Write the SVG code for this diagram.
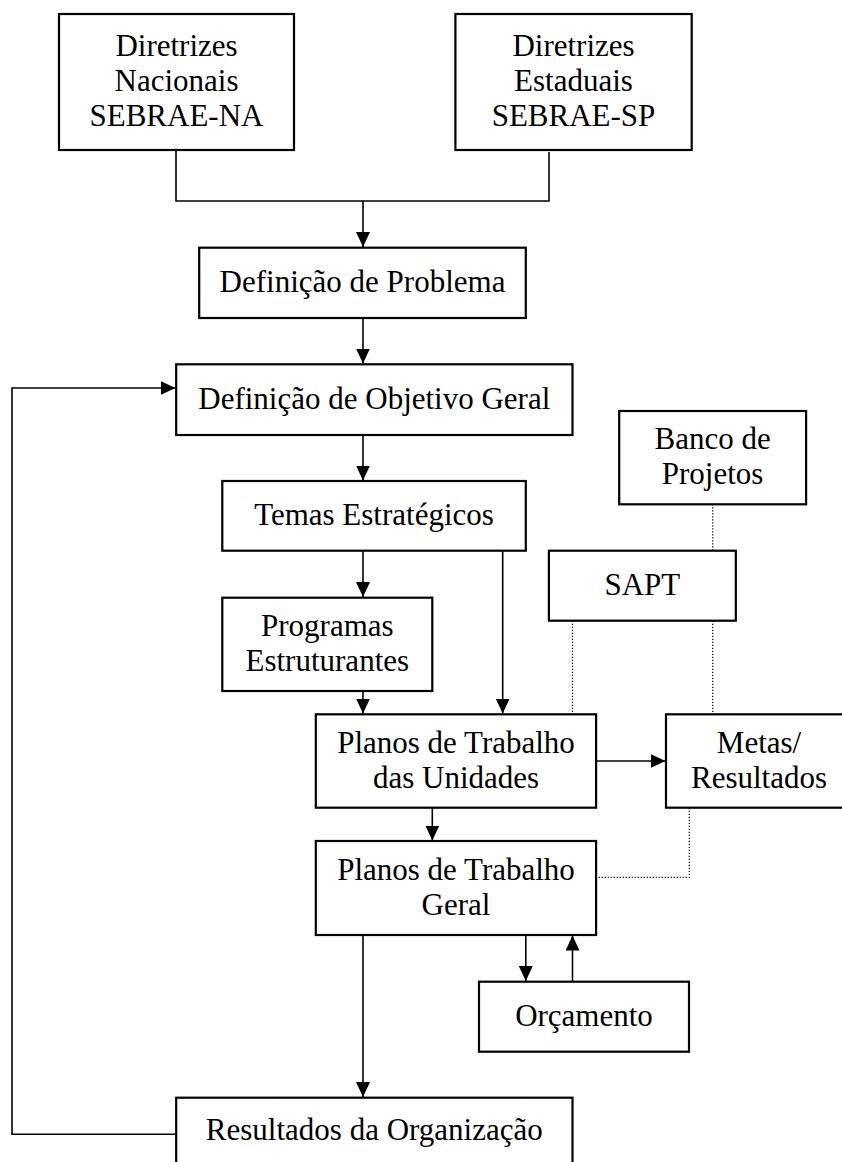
<svg xmlns="http://www.w3.org/2000/svg" width="842" height="1162" viewBox="0 0 842 1162">
<style>
.box{fill:#fff;stroke:#000;stroke-width:2.2}
.t{font-family:"Liberation Serif","Times New Roman",serif;font-size:31px;fill:#000;text-anchor:middle}
.c{fill:none;stroke:#000;stroke-width:1.6}
.d{fill:none;stroke:#000;stroke-width:1.2;stroke-dasharray:1.2 1.8}
</style>
<defs>
<marker id="ah" markerUnits="userSpaceOnUse" viewBox="0 0 15 14" refX="15" refY="7" markerWidth="15" markerHeight="14" orient="auto">
<path d="M0,0 L15,7 L0,14 z" fill="#000"/>
</marker>
</defs>
<rect width="842" height="1162" fill="#fff"/>
<g id="connectors">
<path class="c" d="M176,150 V201 H549 V152"/>
<path class="c" d="M363,201 V247" marker-end="url(#ah)"/>
<path class="c" d="M363,318 V363.5" marker-end="url(#ah)"/>
<path class="c" d="M363,435 V480.5" marker-end="url(#ah)"/>
<path class="c" d="M363,550.7 V597" marker-end="url(#ah)"/>
<path class="c" d="M502.7,550.7 V713.5" marker-end="url(#ah)"/>
<path class="c" d="M363,691 V713.5" marker-end="url(#ah)"/>
<path class="c" d="M596,761 H665.5" marker-end="url(#ah)"/>
<path class="c" d="M432.3,807.7 V840.5" marker-end="url(#ah)"/>
<path class="c" d="M525.8,935 V981" marker-end="url(#ah)"/>
<path class="c" d="M572.5,981.7 V935.5" marker-end="url(#ah)"/>
<path class="c" d="M363,935 V1097" marker-end="url(#ah)"/>
<path class="c" d="M176,1134.3 H12 V388 H175.5" marker-end="url(#ah)"/>
<path class="d" d="M712.7,504.3 V550.7"/>
<path class="d" d="M572.5,620.7 V714.3"/>
<path class="d" d="M712.7,620.7 V714.3"/>
<path class="d" d="M689.3,807.7 V877.3 H596"/>
</g>
<g id="n-nacionais">
<rect class="box" x="59" y="14" width="235" height="136"/>
<text class="t" x="176.5" y="56.2">Diretrizes</text>
<text class="t" x="176.5" y="91.2">Nacionais</text>
<text class="t" x="176.5" y="126.2">SEBRAE-NA</text>
</g>
<g id="n-estaduais">
<rect class="box" x="455.4" y="14" width="236.3" height="136"/>
<text class="t" x="573.5" y="56.2">Diretrizes</text>
<text class="t" x="573.5" y="91.2">Estaduais</text>
<text class="t" x="573.5" y="126.2">SEBRAE-SP</text>
</g>
<g id="n-problema">
<rect class="box" x="199.2" y="247.7" width="326.6" height="70.3"/>
<text class="t" x="362.5" y="292.1">Definição de Problema</text>
</g>
<g id="n-objetivo">
<rect class="box" x="176.2" y="364.3" width="396.3" height="70.7"/>
<text class="t" x="374.3" y="408.9">Definição de Objetivo Geral</text>
</g>
<g id="n-temas">
<rect class="box" x="222.3" y="481" width="303.5" height="69.7"/>
<text class="t" x="374" y="525.1">Temas Estratégicos</text>
</g>
<g id="n-banco">
<rect class="box" x="619.2" y="411" width="186.9" height="93.3"/>
<text class="t" x="712.6" y="449.4">Banco de</text>
<text class="t" x="712.6" y="484.4">Projetos</text>
</g>
<g id="n-sapt">
<rect class="box" x="548.9" y="550.7" width="186.9" height="70"/>
<text class="t" x="642.3" y="594.9">SAPT</text>
</g>
<g id="n-programas">
<rect class="box" x="222.3" y="597.7" width="210" height="93.3"/>
<text class="t" x="327.3" y="636.1">Programas</text>
<text class="t" x="327.3" y="671.1">Estruturantes</text>
</g>
<g id="n-planos-unidades">
<rect class="box" x="315.8" y="714.3" width="280.3" height="93.4"/>
<text class="t" x="456" y="752.7">Planos de Trabalho</text>
<text class="t" x="456" y="787.7">das Unidades</text>
</g>
<g id="n-metas">
<rect class="box" x="666" y="714.3" width="186" height="93.4"/>
<text class="t" x="759" y="752.7">Metas/</text>
<text class="t" x="759" y="787.7">Resultados</text>
</g>
<g id="n-planos-geral">
<rect class="box" x="315.8" y="841" width="280.3" height="94"/>
<text class="t" x="456" y="879.7">Planos de Trabalho</text>
<text class="t" x="456" y="914.7">Geral</text>
</g>
<g id="n-orcamento">
<rect class="box" x="479" y="981.7" width="210" height="70"/>
<text class="t" x="584" y="1025.9">Orçamento</text>
</g>
<g id="n-resultados">
<rect class="box" x="176.2" y="1097.7" width="396.3" height="70.3"/>
<text class="t" x="374.3" y="1140.2">Resultados da Organização</text>
</g>
</svg>
